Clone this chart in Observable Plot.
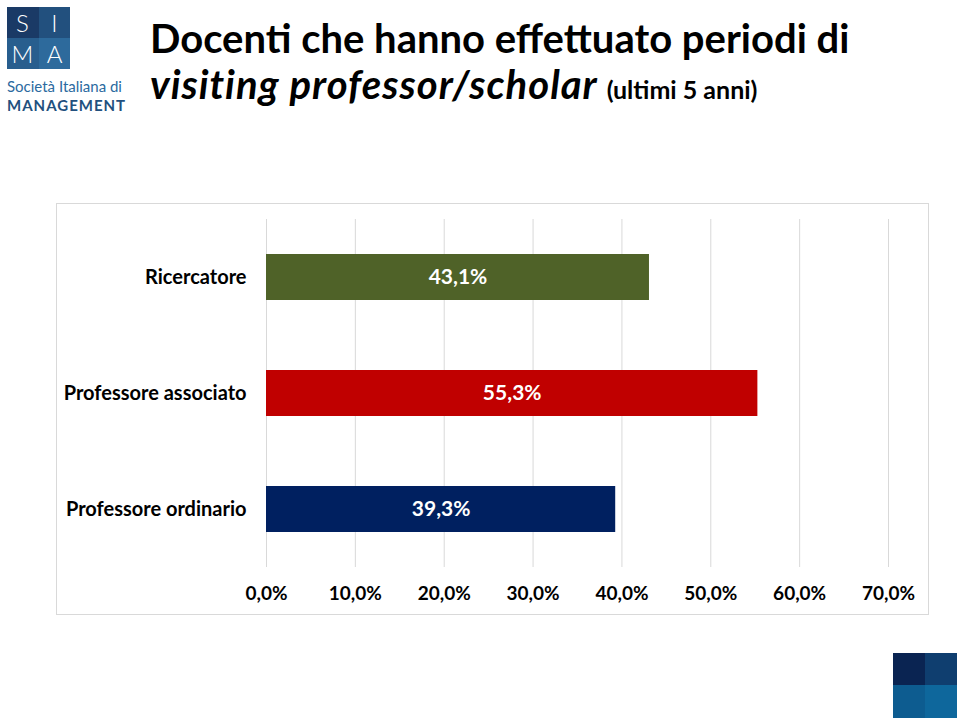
<!DOCTYPE html>
<html><head><meta charset="utf-8">
<script src="https://cdn.jsdelivr.net/npm/d3@7"></script>
<script src="https://cdn.jsdelivr.net/npm/@observablehq/plot@0.6"></script>
<style>
  html,body{margin:0;padding:0;background:#fff;}
  #page{position:relative;width:960px;height:719px;overflow:hidden;font-family:Lato,"Open Sans",sans-serif;}
  .t1{position:absolute;left:150px;top:18px;font-size:40px;line-height:40px;font-weight:700;color:#000;white-space:nowrap;}
  .t2{position:absolute;left:150px;top:64px;font-size:40px;line-height:40px;font-weight:700;font-style:italic;color:#000;white-space:nowrap;letter-spacing:1px;}
  .t2 span{font-style:normal;font-size:25px;letter-spacing:0;}
  #frame{position:absolute;left:56px;top:203px;width:871px;height:410px;border:1px solid #d9d9d9;}
  #chart{position:absolute;left:0;top:0;}
  .sq{position:absolute;}
  .logoL{position:absolute;color:#fff;font-size:24px;line-height:24px;height:24px;font-family:Lato,sans-serif;font-weight:300;width:31px;text-align:center;}
  .logoT{position:absolute;left:7px;font-family:Lato,sans-serif;white-space:nowrap;}
</style></head>
<body>
<div id="page">
  <div class="sq" style="left:7px;top:7px;width:32px;height:31px;background:#1a3a66"></div>
  <div class="sq" style="left:39px;top:7px;width:31px;height:31px;background:#22507e"></div>
  <div class="sq" style="left:7px;top:38px;width:32px;height:31px;background:#285e8e"></div>
  <div class="sq" style="left:39px;top:38px;width:31px;height:31px;background:#2d6a9c"></div>
  <div class="logoL" style="left:7px;top:11px">S</div>
  <div class="logoL" style="left:39px;top:11px">I</div>
  <div class="logoL" style="left:7px;top:42px">M</div>
  <div class="logoL" style="left:39px;top:42px">A</div>
  <div class="logoT" style="top:79px;font-size:15px;line-height:15px;height:15px;color:#2b6aa0;letter-spacing:0">Società Italiana di</div>
  <div class="logoT" style="top:98px;font-size:15px;line-height:15px;height:15px;font-weight:700;color:#22507e;letter-spacing:1px">MANAGEMENT</div>

  <div class="t1">Docenti che hanno effettuato periodi di</div>
  <div class="t2">visiting professor/scholar <span>(ultimi 5 anni)</span></div>

  <div id="frame"><div id="chart"></div></div>

  <div class="sq" style="left:893px;top:653px;width:32px;height:32px;background:#0a2452"></div>
  <div class="sq" style="left:925px;top:653px;width:32px;height:32px;background:#0f3e6f"></div>
  <div class="sq" style="left:893px;top:685px;width:32px;height:33px;background:#0d5c90"></div>
  <div class="sq" style="left:925px;top:685px;width:32px;height:33px;background:#0e679c"></div>
</div>
<script>
const categories = ["Ricercatore", "Professore associato", "Professore ordinario"];
const values = [0.431, 0.553, 0.393];
const barColors = ["#4f6228", "#c00000", "#002060"];
const tickValues = [0, 0.1, 0.2, 0.3, 0.4, 0.5, 0.6, 0.7];

const it = d3.formatLocale({decimal: ",", thousands: ".", grouping: [3], currency: ["€", ""]});
const pct = it.format(".1%");
const data = categories.map((c, i) => ({category: c, value: values[i], color: barColors[i]}));

const chart = Plot.plot({
  width: 871,
  height: 410,
  marginLeft: 209,
  marginRight: 40,
  marginTop: 15,
  marginBottom: 47,
  style: {fontFamily: "Lato, 'Open Sans', sans-serif", background: "transparent"},
  x: {domain: [0, 0.7]},
  y: {domain: categories, paddingInner: 0.6, paddingOuter: 0.3},
  marks: [
    Plot.ruleX(tickValues, {stroke: "#d9d9d9", strokeWidth: 1, strokeOpacity: 1}),
    Plot.barX(data, {x: "value", y: "category", fill: "color"}),
    Plot.text(data, {x: d => d.value / 2, y: "category", text: d => pct(d.value), fill: "#fff", fontSize: 21, fontWeight: "bold"}),
    Plot.axisX({ticks: tickValues, tickFormat: pct, tickSize: 0, tickPadding: 19, fontSize: 19, fontWeight: "bold", fill: "#000", label: null}),
    Plot.axisY({tickSize: 0, tickPadding: 20, fontSize: 20, fontWeight: "bold", fill: "#000", label: null})
  ]
});
document.getElementById("chart").appendChild(chart);
</script>
</body></html>
